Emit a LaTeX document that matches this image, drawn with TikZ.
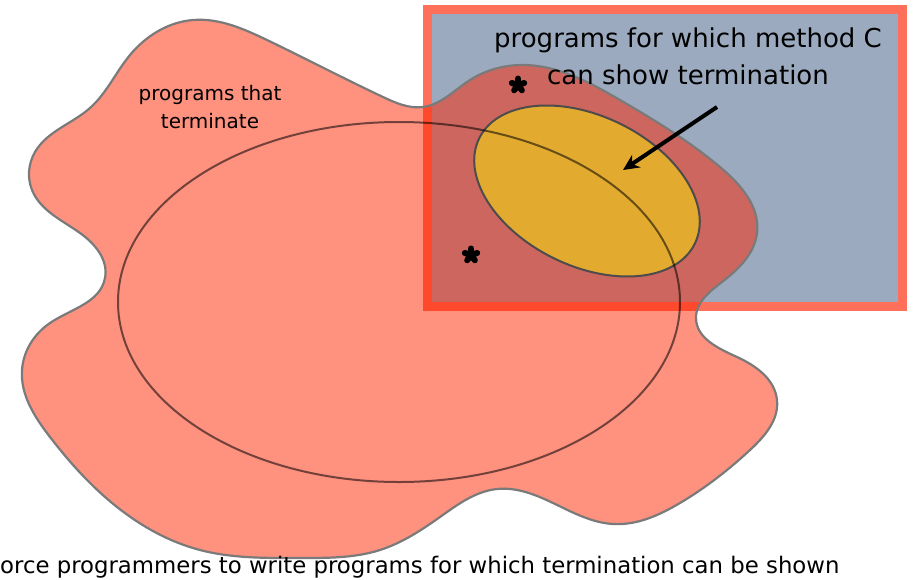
\documentclass[tikz,border=0pt]{standalone}
\usepackage{fontspec}
\setmainfont{DejaVu Sans}
\usetikzlibrary{arrows.meta,hobby}
\definecolor{slate}{RGB}{155,170,190}
\definecolor{rimred}{RGB}{255,112,90}
\definecolor{blobred}{RGB}{255,35,0}
\definecolor{mustard}{RGB}{227,170,48}

\begin{document}
\begin{tikzpicture}[x=1pt,y=-1pt]
\useasboundingbox (0,0) rectangle (913,579);
\coordinate (Y) at (587,191);
\coordinate (B) at (399,302);
\fill[slate] (427,9) rectangle (902,306);
\draw[rimred,line width=9pt] (427,9) rectangle (902,306);
\filldraw[fill=blobred,fill opacity=.5,draw=black!52,line width=2.2pt]
  plot[closed hobby] coordinates {(193,20) (267,40) (383,97) (423,107) (470,80)
  (523,65) (620,100) (720,167) (757,233) (722,282) (696,318) (737,357) (777,400)
  (750,450) (680,503) (613,524) (553,503) (497,489) (440,517) (380,550) (300,558)
  (200,550) (117,507) (50,437) (22,370) (50,323) (105,278) (80,233) (32,190)
  (35,152) (90,108) (130,55)};
\filldraw[fill=mustard,draw=black!70,line width=2pt,rotate around={-26:(Y)}]
  (Y) ellipse [x radius=120,y radius=75];
\draw[black,opacity=.55,line width=2pt] (B) ellipse [x radius=281,y radius=180];
% labels
\node[align=center,anchor=north,inner sep=0pt,font=\fontsize{26}{37}\selectfont]
  (methodC) at (688,28) {programs for which method C\\can show termination};
\node[align=center,anchor=north,inner sep=0pt,font=\fontsize{20}{28}\selectfont]
  (halts) at (210,85) {programs that\\terminate};
\node[anchor=base west,inner sep=0pt,font=\fontsize{22.8}{28}\selectfont]
  (footer) at (0,573) {orce programmers to write programs for which termination can be shown};
% stars
\foreach \cx/\cy in {518/85,471/255}
  \foreach \a in {90,162,234,306,18}
    \draw[line width=6pt,line cap=round] (\cx,\cy) -- ++({6.5*cos(\a)},{-6.5*sin(\a)});
% arrow
\coordinate (tail) at (717,107);
\coordinate (tip) at (623,170);
\draw[line width=4pt,-{Stealth[length=16pt,width=15pt]}] (tail) -- (tip);
\end{tikzpicture}
\end{document}
